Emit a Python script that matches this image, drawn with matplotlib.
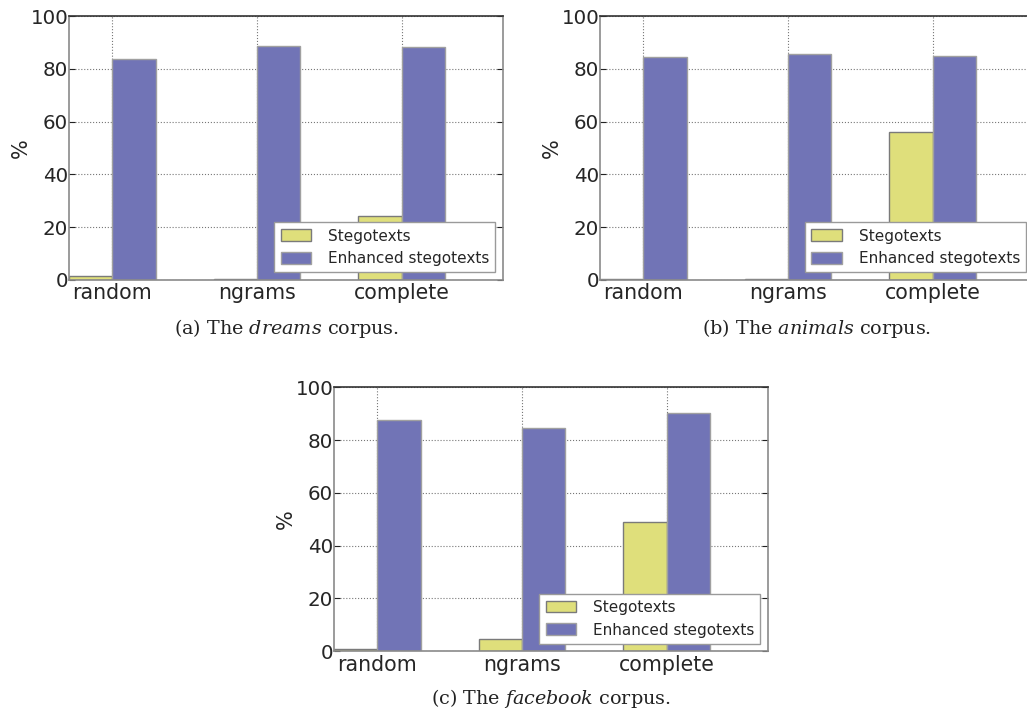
import numpy as np
import matplotlib
matplotlib.use('Agg')
import matplotlib.pyplot as plt

# Detection rates (%) per generation method, one panel per corpus
metodos = ['random', 'ngrams', 'complete']
series = ['Stegotexts', 'Enhanced stegotexts']

dreams_steg = [1.4, 0.4, 24.1]
dreams_enh = [83.7, 88.6, 88.3]

animals_steg = [0.2, 0.5, 55.9]
animals_enh = [84.5, 85.6, 84.8]

facebook_steg = [0.8, 4.5, 49.1]
facebook_enh = [87.7, 84.6, 90.4]

legendas = ['dreams', 'animals', 'facebook']

COR_STEG = '#dfdf7b'
COR_ENH = '#7174b6'

plt.rcParams['font.family'] = 'DejaVu Sans'
plt.rcParams['mathtext.fontset'] = 'custom'
plt.rcParams['mathtext.rm'] = 'DejaVu Serif'
plt.rcParams['mathtext.it'] = 'DejaVu Serif:italic'

fig = plt.figure(figsize=(10.27, 7.15), dpi=100)

# axes positions in figure fractions
largura, altura = 0.4226, 0.3692
posicoes = [
    (0.0672, 0.6084),
    (0.5842, 0.6084),
    (0.3252, 0.0891),
]
dados = [
    (dreams_steg, dreams_enh),
    (animals_steg, animals_enh),
    (facebook_steg, facebook_enh),
]
letras = ['a', 'b', 'c']
desloc_legenda = [0.068, 0.068, 0.066]

x = np.arange(len(metodos))
w = 0.3

for (esq, base), (steg, enh), letra, corpus, dy in zip(posicoes, dados, letras, legendas, desloc_legenda):
    ax = fig.add_axes([esq, base, largura, altura])
    ax.bar(x - w, steg, w, align='edge', color=COR_STEG, edgecolor='#7a7a7a',
           linewidth=1.0, label=series[0], zorder=2)
    ax.bar(x, enh, w, align='edge', color=COR_ENH, edgecolor='#a0a0a0',
           linewidth=1.0, label=series[1], zorder=2)

    ax.set_xlim(-0.3, 2.7)
    ax.set_ylim(0, 100)
    ax.set_xticks(x)
    ax.set_xticklabels(metodos, fontsize=14.8, color='#262626')
    ax.set_yticks([0, 20, 40, 60, 80, 100])
    ax.tick_params(axis='y', labelsize=14.3, labelcolor='#262626', direction='in',
                   length=4, left=True, right=True, pad=0.5, color='#222222')
    ax.tick_params(axis='x', length=0, pad=2.5)
    ax.grid(True, linestyle=':', color='#777777', linewidth=0.8, zorder=0)
    ax.set_axisbelow(True)
    ax.set_ylabel('%', fontsize=15, color='#262626', labelpad=0)

    for lado in ['left', 'bottom', 'right']:
        ax.spines[lado].set_color('#8a8a8a')
        ax.spines[lado].set_linewidth(1.2)
    ax.spines['top'].set_color('#333333')
    ax.spines['top'].set_linewidth(1.2)

    leg = ax.legend(loc='lower right', fontsize=11, frameon=True, fancybox=False,
                    framealpha=1.0, handlelength=2.0, handleheight=0.8,
                    handletextpad=1.1, borderpad=0.4, labelspacing=0.5)
    leg.get_frame().set_edgecolor('#9a9a9a')
    leg.get_frame().set_linewidth(1.0)
    for t in leg.get_texts():
        t.set_color('#262626')

    fig.text(esq + largura / 2, base - dy,
             r'(%s) The $\mathit{%s}$ corpus.' % (letra, corpus),
             ha='center', va='center', fontsize=13.8,
             family='DejaVu Serif', color='#222222')

fig.savefig('out.png', dpi=100)
